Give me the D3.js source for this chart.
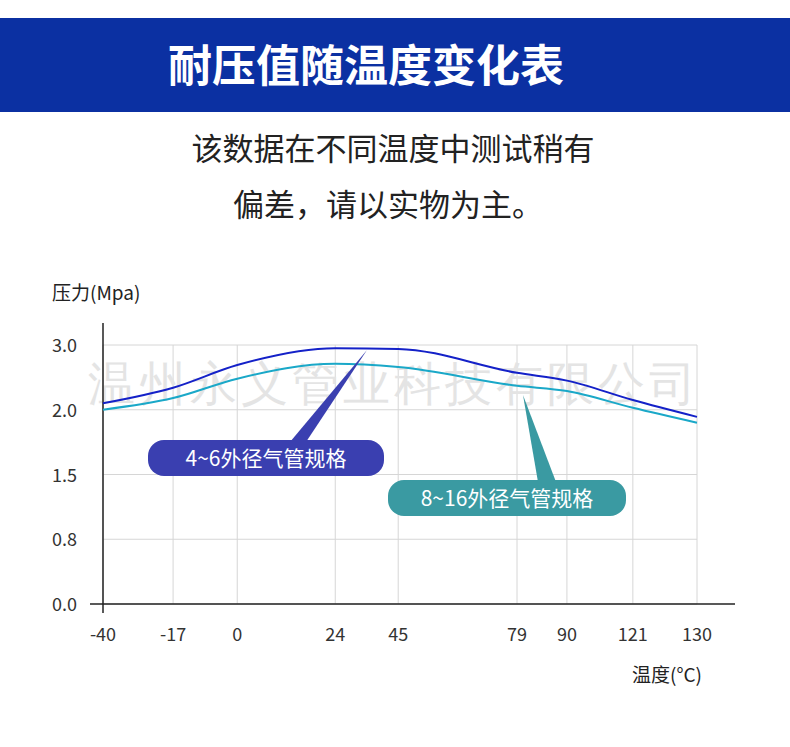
<!DOCTYPE html>
<html><head><meta charset="utf-8">
<script src="https://cdn.jsdelivr.net/npm/d3@7"></script>
<style>body{margin:0;background:#fff}svg{display:block;font-family:"Noto Sans CJK SC","Noto Sans",sans-serif}</style>
</head><body><div id="chart"></div>
<script>
const temps = ["-40", "-17", "0", "24", "45", "79", "90", "121", "130"];
const tempPos = [0, 0.118, 0.226, 0.391, 0.497, 0.697, 0.781, 0.892, 1.0];
const yLabels = ["0.0", "0.8", "1.5", "2.0", "3.0"];
// values in tick-step units (labels are evenly spaced)
const small = [3.1, 3.34, 3.69, 3.95, 3.94, 3.57, 3.45, 3.15, 2.89];
const large = [3.0, 3.18, 3.48, 3.71, 3.66, 3.37, 3.29, 3.03, 2.8];

const main = function() {
  const svg = d3.select("#chart").append("svg").attr("width", 790).attr("height", 747);

  svg.append("rect").attr("x", 0).attr("y", 18).attr("width", 790).attr("height", 94).attr("fill", "#0b30a2");
  svg.append("text").attr("x", 366).attr("y", 82).attr("text-anchor", "middle").attr("fill", "#fff")
    .attr("font-size", 44).attr("font-weight", 700).text("耐压值随温度变化表");
  svg.append("text").attr("x", 393).attr("y", 160).attr("text-anchor", "middle").attr("fill", "#222")
    .attr("font-size", 31).text("该数据在不同温度中测试稍有");
  svg.append("text").attr("x", 388).attr("y", 216).attr("text-anchor", "middle").attr("fill", "#222")
    .attr("font-size", 31).text("偏差，请以实物为主。");

  const x = d3.scaleLinear().domain([0, 1]).range([103, 697]);
  const y = d3.scaleLinear().domain([0, 4]).range([604, 345]);
  const px = i => x(tempPos[i]);

  const g = svg.append("g");
  g.selectAll(".hg").data(yLabels).enter().append("line")
    .attr("x1", 103).attr("x2", 697).attr("y1", (d, i) => y(i)).attr("y2", (d, i) => y(i))
    .attr("stroke", "#d6d6d6");
  g.selectAll(".vg").data(temps).enter().append("line")
    .attr("x1", (d, i) => px(i)).attr("x2", (d, i) => px(i)).attr("y1", y(4)).attr("y2", y(0))
    .attr("stroke", "#d6d6d6");

  svg.append("text").attr("x", 394).attr("y", 400).attr("text-anchor", "middle").attr("fill", "#e4e4e4")
    .attr("font-size", 47).attr("font-family", "serif").attr("letter-spacing", 4).text("温州永义管业科技有限公司");

  svg.append("line").attr("x1", 103).attr("x2", 103).attr("y1", 323).attr("y2", 613).attr("stroke", "#222").attr("stroke-width", 1.5);
  svg.append("line").attr("x1", 90).attr("x2", 735).attr("y1", 604).attr("y2", 604).attr("stroke", "#222").attr("stroke-width", 1.5);

  svg.selectAll(".yl").data(yLabels).enter().append("text")
    .attr("x", 77).attr("y", (d, i) => y(i) + 7).attr("text-anchor", "end")
    .attr("font-size", 18).attr("fill", "#333").text(d => d);
  svg.selectAll(".xl").data(temps).enter().append("text")
    .attr("x", (d, i) => px(i)).attr("y", 641).attr("text-anchor", "middle")
    .attr("font-size", 18).attr("fill", "#333").text(d => d);
  svg.append("text").attr("x", 52).attr("y", 300).attr("font-size", 19).attr("fill", "#222").text("压力(Mpa)");
  svg.append("text").attr("x", 632).attr("y", 682).attr("font-size", 19).attr("fill", "#222").text("温度(°C)");

  const line = d3.line().x((d, i) => px(i)).y(d => y(d)).curve(d3.curveMonotoneX);
  svg.append("path").datum(large).attr("d", line).attr("fill", "none").attr("stroke", "#1aa8c8").attr("stroke-width", 2);
  svg.append("path").datum(small).attr("d", line).attr("fill", "none").attr("stroke", "#1421c8").attr("stroke-width", 2);

  // callouts
  const callouts = [
    {text: "4~6外径气管规格", x: 148, y: 440, w: 236, h: 36, fill: "#3a3fb0", tip: [367, 350], base: [290, 306]},
    {text: "8~16外径气管规格", x: 388, y: 480, w: 238, h: 36, fill: "#3a9aa2", tip: [523, 395], base: [538, 556]}
  ];
  callouts.forEach(c => {
    svg.append("path").attr("d", `M${c.base[0]},${c.y + 2}L${c.tip[0]},${c.tip[1]}L${c.base[1]},${c.y + 2}Z`).attr("fill", c.fill);
    svg.append("rect").attr("x", c.x).attr("y", c.y).attr("width", c.w).attr("height", c.h).attr("rx", 16).attr("fill", c.fill);
    svg.append("text").attr("x", c.x + c.w / 2).attr("y", c.y + c.h / 2 + 8).attr("text-anchor", "middle")
      .attr("fill", "#fff").attr("font-size", 21).text(c.text);
  });
};
window.onload = main;
</script></body></html>
